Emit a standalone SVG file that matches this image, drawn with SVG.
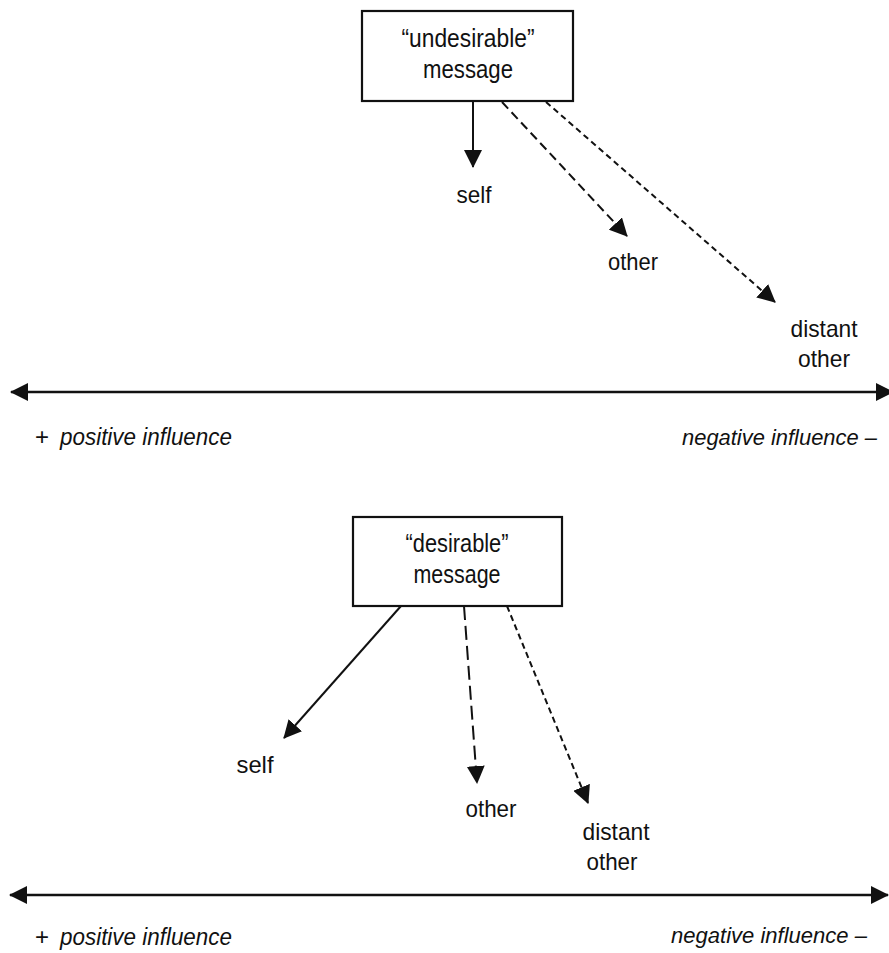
<svg xmlns="http://www.w3.org/2000/svg" width="889" height="953" viewBox="0 0 889 953">
  <style>
    text { font-family: "Liberation Sans", Arial, sans-serif; fill: #111; }
    .lbl { font-size: 24px; text-anchor: middle; }
    .box-text { font-size: 25px; text-anchor: middle; }
    .axis-text { font-size: 23px; font-style: italic; }
    .axis-end { font-size: 22px; font-style: italic; }
    .plus { font-size: 24px; }
    .box { fill: #fff; stroke: #111; stroke-width: 2.2; }
    .conn { stroke: #111; stroke-width: 2; fill: none; }
    .axis { stroke: #111; stroke-width: 2.4; fill: none; }
    .dash-m { stroke-dasharray: 9 5; }
    .dash-s { stroke-dasharray: 6 4; }
    .dash-l { stroke-dasharray: 14 6; }
  </style>
  <defs>
    <marker id="head" markerUnits="userSpaceOnUse" markerWidth="18" markerHeight="18" refX="17" refY="9" orient="auto-start-reverse">
      <path d="M0,0 L18,9 L0,18 Z" fill="#111"/>
    </marker>
  </defs>
  <rect width="889" height="953" fill="#fff"/>

  <!-- upper panel -->
  <g id="undesirable-message">
    <rect class="box" x="362" y="11" width="211" height="90"/>
    <text class="box-text" x="468" y="47" textLength="133" lengthAdjust="spacingAndGlyphs">“undesirable”</text>
    <text class="box-text" x="468" y="78" textLength="90" lengthAdjust="spacingAndGlyphs">message</text>
  </g>
  <g id="self-top"><text class="lbl" x="474" y="203" textLength="35" lengthAdjust="spacingAndGlyphs">self</text></g>
  <g id="other-top"><text class="lbl" x="633" y="270" textLength="50" lengthAdjust="spacingAndGlyphs">other</text></g>
  <g id="distant-other-top">
    <text class="lbl" x="824" y="337" textLength="67" lengthAdjust="spacingAndGlyphs">distant</text>
    <text class="lbl" x="824" y="367" textLength="52" lengthAdjust="spacingAndGlyphs">other</text>
  </g>
  <g id="axis-top-labels">
    <text class="plus" x="35" y="445">+</text>
    <text class="axis-text" x="60" y="445" textLength="172" lengthAdjust="spacingAndGlyphs">positive influence</text>
    <text class="axis-end" x="682" y="445" textLength="195" lengthAdjust="spacingAndGlyphs">negative influence –</text>
  </g>

  <!-- lower panel -->
  <g id="desirable-message">
    <rect class="box" x="353" y="517" width="209" height="89"/>
    <text class="box-text" x="457" y="552" textLength="103" lengthAdjust="spacingAndGlyphs">“desirable”</text>
    <text class="box-text" x="457" y="583" textLength="87" lengthAdjust="spacingAndGlyphs">message</text>
  </g>
  <g id="self-bottom"><text class="lbl" x="255" y="773" textLength="37" lengthAdjust="spacingAndGlyphs">self</text></g>
  <g id="other-bottom"><text class="lbl" x="491" y="817" textLength="51" lengthAdjust="spacingAndGlyphs">other</text></g>
  <g id="distant-other-bottom">
    <text class="lbl" x="616" y="840" textLength="67" lengthAdjust="spacingAndGlyphs">distant</text>
    <text class="lbl" x="612" y="870" textLength="51" lengthAdjust="spacingAndGlyphs">other</text>
  </g>
  <g id="axis-bottom-labels">
    <text class="plus" x="35" y="945">+</text>
    <text class="axis-text" x="60" y="945" textLength="172" lengthAdjust="spacingAndGlyphs">positive influence</text>
    <text class="axis-end" x="671" y="943" textLength="196" lengthAdjust="spacingAndGlyphs">negative influence –</text>
  </g>

  <g id="connectors">
    <!-- upper arrows -->
    <line class="conn" x1="473" y1="102" x2="473" y2="167" marker-end="url(#head)"/>
    <line class="conn dash-m" x1="502" y1="102" x2="627" y2="236" marker-end="url(#head)"/>
    <line class="conn dash-s" x1="546" y1="102" x2="775" y2="302" marker-end="url(#head)"/>
    <line class="axis" x1="11" y1="392" x2="893" y2="392" marker-start="url(#head)" marker-end="url(#head)"/>
    <!-- lower arrows -->
    <line class="conn" x1="401" y1="606" x2="284" y2="738" marker-end="url(#head)"/>
    <line class="conn dash-l" x1="464" y1="606" x2="477" y2="783" marker-end="url(#head)"/>
    <line class="conn dash-s" x1="507" y1="606" x2="588" y2="803" marker-end="url(#head)"/>
    <line class="axis" x1="10" y1="895" x2="888" y2="895" marker-start="url(#head)" marker-end="url(#head)"/>
  </g>
</svg>
